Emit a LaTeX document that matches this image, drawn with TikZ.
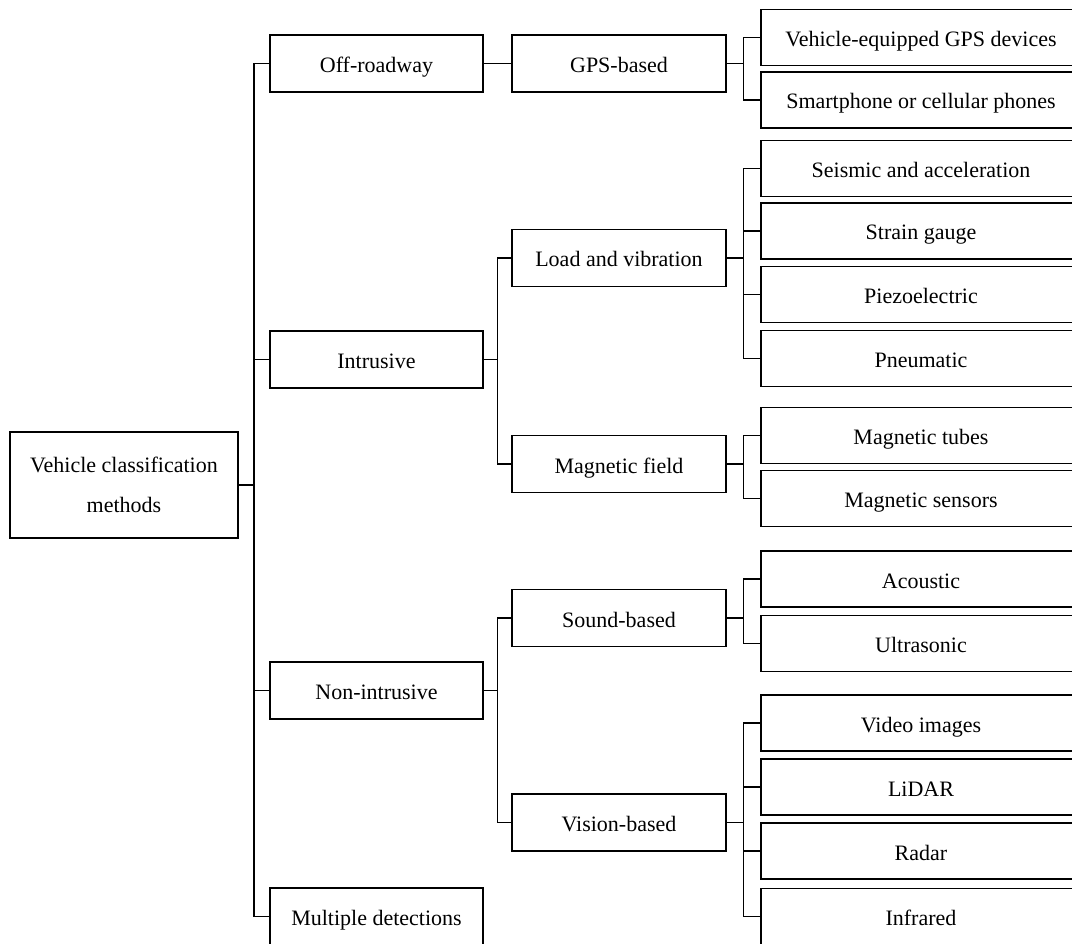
\documentclass[tikz,border=0pt]{standalone}
\usepackage{fontspec}
\setmainfont{Liberation Serif}
\begin{document}
\begin{tikzpicture}[x=1pt,y=-1pt,
  every node/.style={font=\fontsize{22}{24}\selectfont},
  box/.style={draw, line width=1.5pt, inner sep=0pt, minimum height=57pt},
  txt/.style={text height=21pt, text depth=3pt},
  lvlone/.style={box, txt, minimum width=213pt},
  lvltwo/.style={box, txt, minimum width=214pt},
  leaf/.style={box, txt, minimum width=320pt, minimum height=56pt},
  conn/.style={line width=1.3pt}]
\useasboundingbox (0,0) rectangle (1072,944);
\clip (0,0) rectangle (1072,944);
% root
\node[box, minimum width=228pt, minimum height=106pt, align=center,
      font=\fontsize{22}{40}\selectfont] (root) at (124,485) {Vehicle classification\\methods};
% level 1
\node[lvlone] (off)   at (376.5,63.5)  {Off-roadway};
\node[lvlone] (intr)  at (376.5,359.5) {Intrusive};
\node[lvlone] (nonin) at (376.5,690.5) {Non-intrusive};
\node[lvlone] (multi) at (376.5,916.5) {Multiple detections};
% level 2
\node[lvltwo] (gps)   at (619,63.5)  {GPS-based};
\node[lvltwo] (load)  at (619,258)   {Load and vibration};
\node[lvltwo] (magf)  at (619,464)   {Magnetic field};
\node[lvltwo] (sound) at (619,618)   {Sound-based};
\node[lvltwo] (vis)   at (619,822.5) {Vision-based};
% leaves
\node[leaf] (veh)   at (921,37.5)  {Vehicle-equipped GPS devices};
\node[leaf] (smart) at (921,100)   {Smartphone or cellular phones};
\node[leaf] (seis)  at (921,168.5) {Seismic and acceleration};
\node[leaf] (strain) at (921,231)  {Strain gauge};
\node[leaf] (piezo) at (921,294.5) {Piezoelectric};
\node[leaf] (pneu)  at (921,358.5) {Pneumatic};
\node[leaf] (mtube) at (921,435.5) {Magnetic tubes};
\node[leaf] (msens) at (921,498.5) {Magnetic sensors};
\node[leaf] (acou)  at (921,579)   {Acoustic};
\node[leaf] (ultra) at (921,643.5) {Ultrasonic};
\node[leaf] (video) at (921,723)   {Video images};
\node[leaf] (lidar) at (921,787)   {LiDAR};
\node[leaf] (radar) at (921,851)   {Radar};
\node[leaf] (infra) at (921,916.5) {Infrared};
% bracket columns
\coordinate (ba) at (254,0);
\coordinate (bb) at (497.5,0);
\coordinate (bc) at (743.5,0);
% root -> level 1
\draw[conn] (root.east) -- (root.east -| ba);
\draw[conn] (off.west) -- (off.west -| ba) |- (multi.west);
\draw[conn] (intr.west) -- (intr.west -| ba);
\draw[conn] (nonin.west) -- (nonin.west -| ba);
% level 1 -> level 2
\draw[conn] (off.east) -- (gps.west);
\draw[conn] (intr.east) -- (intr.east -| bb);
\draw[conn] (load.west) -- (load.west -| bb) |- (magf.west);
\draw[conn] (nonin.east) -- (nonin.east -| bb);
\draw[conn] (sound.west) -- (sound.west -| bb) |- (vis.west);
% level 2 -> leaves
\draw[conn] (gps.east) -- (gps.east -| bc);
\draw[conn] (veh.west) -- (veh.west -| bc) |- (smart.west);
\draw[conn] (load.east) -- (load.east -| bc);
\draw[conn] (seis.west) -- (seis.west -| bc) |- (pneu.west);
\draw[conn] (strain.west) -- (strain.west -| bc);
\draw[conn] (piezo.west) -- (piezo.west -| bc);
\draw[conn] (magf.east) -- (magf.east -| bc);
\draw[conn] (mtube.west) -- (mtube.west -| bc) |- (msens.west);
\draw[conn] (sound.east) -- (sound.east -| bc);
\draw[conn] (acou.west) -- (acou.west -| bc) |- (ultra.west);
\draw[conn] (vis.east) -- (vis.east -| bc);
\draw[conn] (video.west) -- (video.west -| bc) |- (infra.west);
\draw[conn] (lidar.west) -- (lidar.west -| bc);
\draw[conn] (radar.west) -- (radar.west -| bc);
\end{tikzpicture}
\end{document}
